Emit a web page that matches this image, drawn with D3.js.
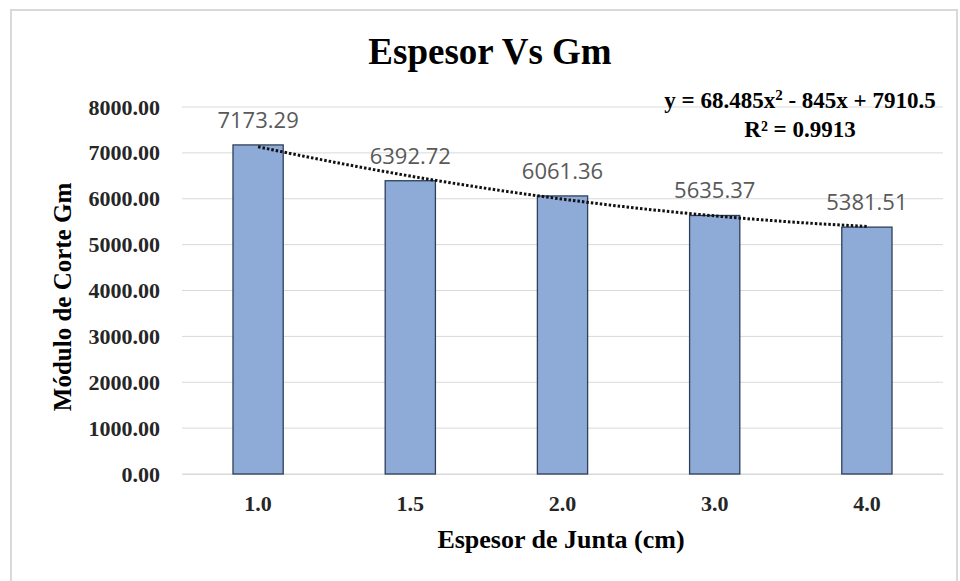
<!DOCTYPE html>
<html><head><meta charset="utf-8">
<script src="https://cdn.jsdelivr.net/npm/d3@7/dist/d3.min.js"></script>
<style>body{margin:0;background:#fff}svg{display:block}</style>
</head><body>
<script>
const categories = ["1.0","1.5","2.0","3.0","4.0"];
const values = [7173.29, 6392.72, 6061.36, 5635.37, 5381.51];
const yTicks = [0,1000,2000,3000,4000,5000,6000,7000,8000];
const trendCoef = [68.485, -845, 7910.5]; // a x^2 + b x + c, x = category index 1..5
const title = "Espesor Vs Gm";
const xTitle = "Espesor de Junta (cm)";
const yTitle = "Módulo de Corte Gm";
const eqText = ["y = 68.485x", "2", " - 845x + 7910.5"];
const r2Text = "R² = 0.9913";

const W = 960, H = 581;
const svg = d3.select("body").append("svg").attr("width", W).attr("height", H);
const serif = "'Liberation Serif','Times New Roman',serif";

// frame
svg.append("rect").attr("x",11).attr("y",10).attr("width",946).attr("height",H).attr("fill","#fff")
  .attr("stroke","#d9d9d9").attr("stroke-width",2);

const pL = 182, pR = 943, pT = 107, pB = 474;
const x = d3.scaleBand().domain(categories).range([pL,pR]).paddingInner(0.67).paddingOuter(0.335);
const y = d3.scaleLinear().domain([0,8000]).range([pB,pT]);

// grid
svg.append("g").selectAll("line").data(yTicks).join("line")
  .attr("x1",pL).attr("x2",pR).attr("y1",d=>y(d)).attr("y2",d=>y(d))
  .attr("stroke","#d9d9d9").attr("stroke-width",1);

// y axis labels
const yAxis = svg.append("g").attr("transform",`translate(${pL},0)`)
  .call(d3.axisLeft(y).tickValues(yTicks).tickFormat(d3.format(".2f")).tickSize(0).tickPadding(22));
yAxis.select(".domain").remove();
yAxis.selectAll("text").attr("font-family",serif).attr("font-weight","bold").attr("font-size",22).attr("fill","#262626");

// x axis labels
const xAxis = svg.append("g").attr("transform",`translate(0,${pB})`)
  .call(d3.axisBottom(x).tickSize(0).tickPadding(21));
xAxis.select(".domain").attr("stroke","#d9d9d9");
xAxis.selectAll("text").attr("font-family",serif).attr("font-weight","bold").attr("font-size",22).attr("fill","#262626");

// bars
svg.append("g").selectAll("rect").data(values).join("rect")
  .attr("x",(d,i)=>x(categories[i])).attr("width",x.bandwidth())
  .attr("y",d=>y(d)).attr("height",d=>pB-y(d))
  .attr("fill","#8eaad6").attr("stroke","#2f3f5a").attr("stroke-width",1.3);

// data labels
svg.append("g").selectAll("text").data(values).join("text")
  .attr("x",(d,i)=>x(categories[i])+x.bandwidth()/2).attr("y",d=>y(d)-17)
  .attr("text-anchor","middle").attr("font-family","'Open Sans','Liberation Sans',sans-serif")
  .attr("font-size",22).attr("fill","#595959").text(d=>d.toFixed(2));

// trendline
const xi = d3.scaleLinear().domain([1,5]).range([x(categories[0])+x.bandwidth()/2, x(categories[4])+x.bandwidth()/2]);
const pts = d3.range(1,5.001,0.05).map(t=>[xi(t), y(trendCoef[0]*t*t+trendCoef[1]*t+trendCoef[2])]);
svg.append("path").attr("d",d3.line()(pts)).attr("fill","none").attr("stroke","#111")
  .attr("stroke-width",3).attr("stroke-dasharray","2.5,2");

// title
svg.append("text").attr("x",490).attr("y",64).attr("text-anchor","middle")
  .attr("font-family",serif).attr("font-weight","bold").attr("font-size",37).attr("fill","#000").text(title);

// equation
const eq = svg.append("text").attr("x",800).attr("y",108).attr("text-anchor","middle")
  .attr("font-family",serif).attr("font-weight","bold").attr("font-size",23).attr("fill","#000");
eq.append("tspan").text(eqText[0]);
eq.append("tspan").attr("dy",-8).attr("font-size",15).text(eqText[1]);
eq.append("tspan").attr("dy",8).text(eqText[2]);
svg.append("text").attr("x",800).attr("y",137).attr("text-anchor","middle")
  .attr("font-family",serif).attr("font-weight","bold").attr("font-size",23).attr("fill","#000").text(r2Text);

// axis titles
svg.append("text").attr("x",561).attr("y",548).attr("text-anchor","middle")
  .attr("font-family",serif).attr("font-weight","bold").attr("font-size",26).attr("fill","#000").text(xTitle);
svg.append("text").attr("transform","translate(71,297) rotate(-90)").attr("text-anchor","middle")
  .attr("font-family",serif).attr("font-weight","bold").attr("font-size",25).attr("fill","#000").text(yTitle);
</script>
</body></html>
